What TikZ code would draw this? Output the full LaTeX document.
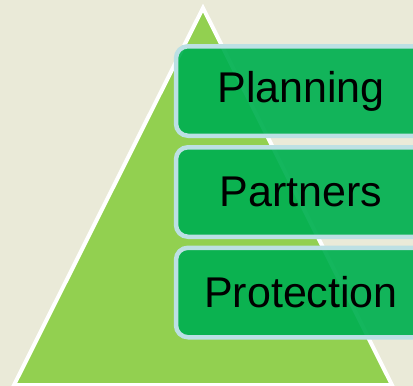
\documentclass[tikz,border=0pt]{standalone}
\usepackage{fontspec}
\setmainfont{Liberation Sans}
\definecolor{bg}{HTML}{EAEAD8}
\definecolor{tri}{HTML}{92D050}
\definecolor{boxfill}{HTML}{00B050}
\definecolor{boxline}{HTML}{BCE0E4}
\tikzset{
  pbox/.style={draw=boxline, line width=4.5pt, fill=boxfill, fill opacity=0.92, draw opacity=1, text opacity=1,
    rounded corners=12pt, minimum width=250pt, minimum height=89.5pt, inner sep=0pt,
    font=\fontsize{43}{43}\selectfont, text=black},
  tribox/.style={draw=white, line width=4pt, fill=tri, line join=miter}
}
\begin{document}
\begin{tikzpicture}[x=1pt,y=-1pt]
\useasboundingbox (0,0) rectangle (413,386);
\clip (0,0) rectangle (413,386);
\fill[bg] (0,0) rectangle (413,386);
\draw[tribox] (203,8) -- (392,385) -- (14,385) -- cycle;
\node[pbox] (planning) at (301,91) {Planning};
\node[pbox] (partners) at (301,192) {Partners};
\node[pbox] (protection) at (301,292.5) {Protection};
\end{tikzpicture}
\end{document}
